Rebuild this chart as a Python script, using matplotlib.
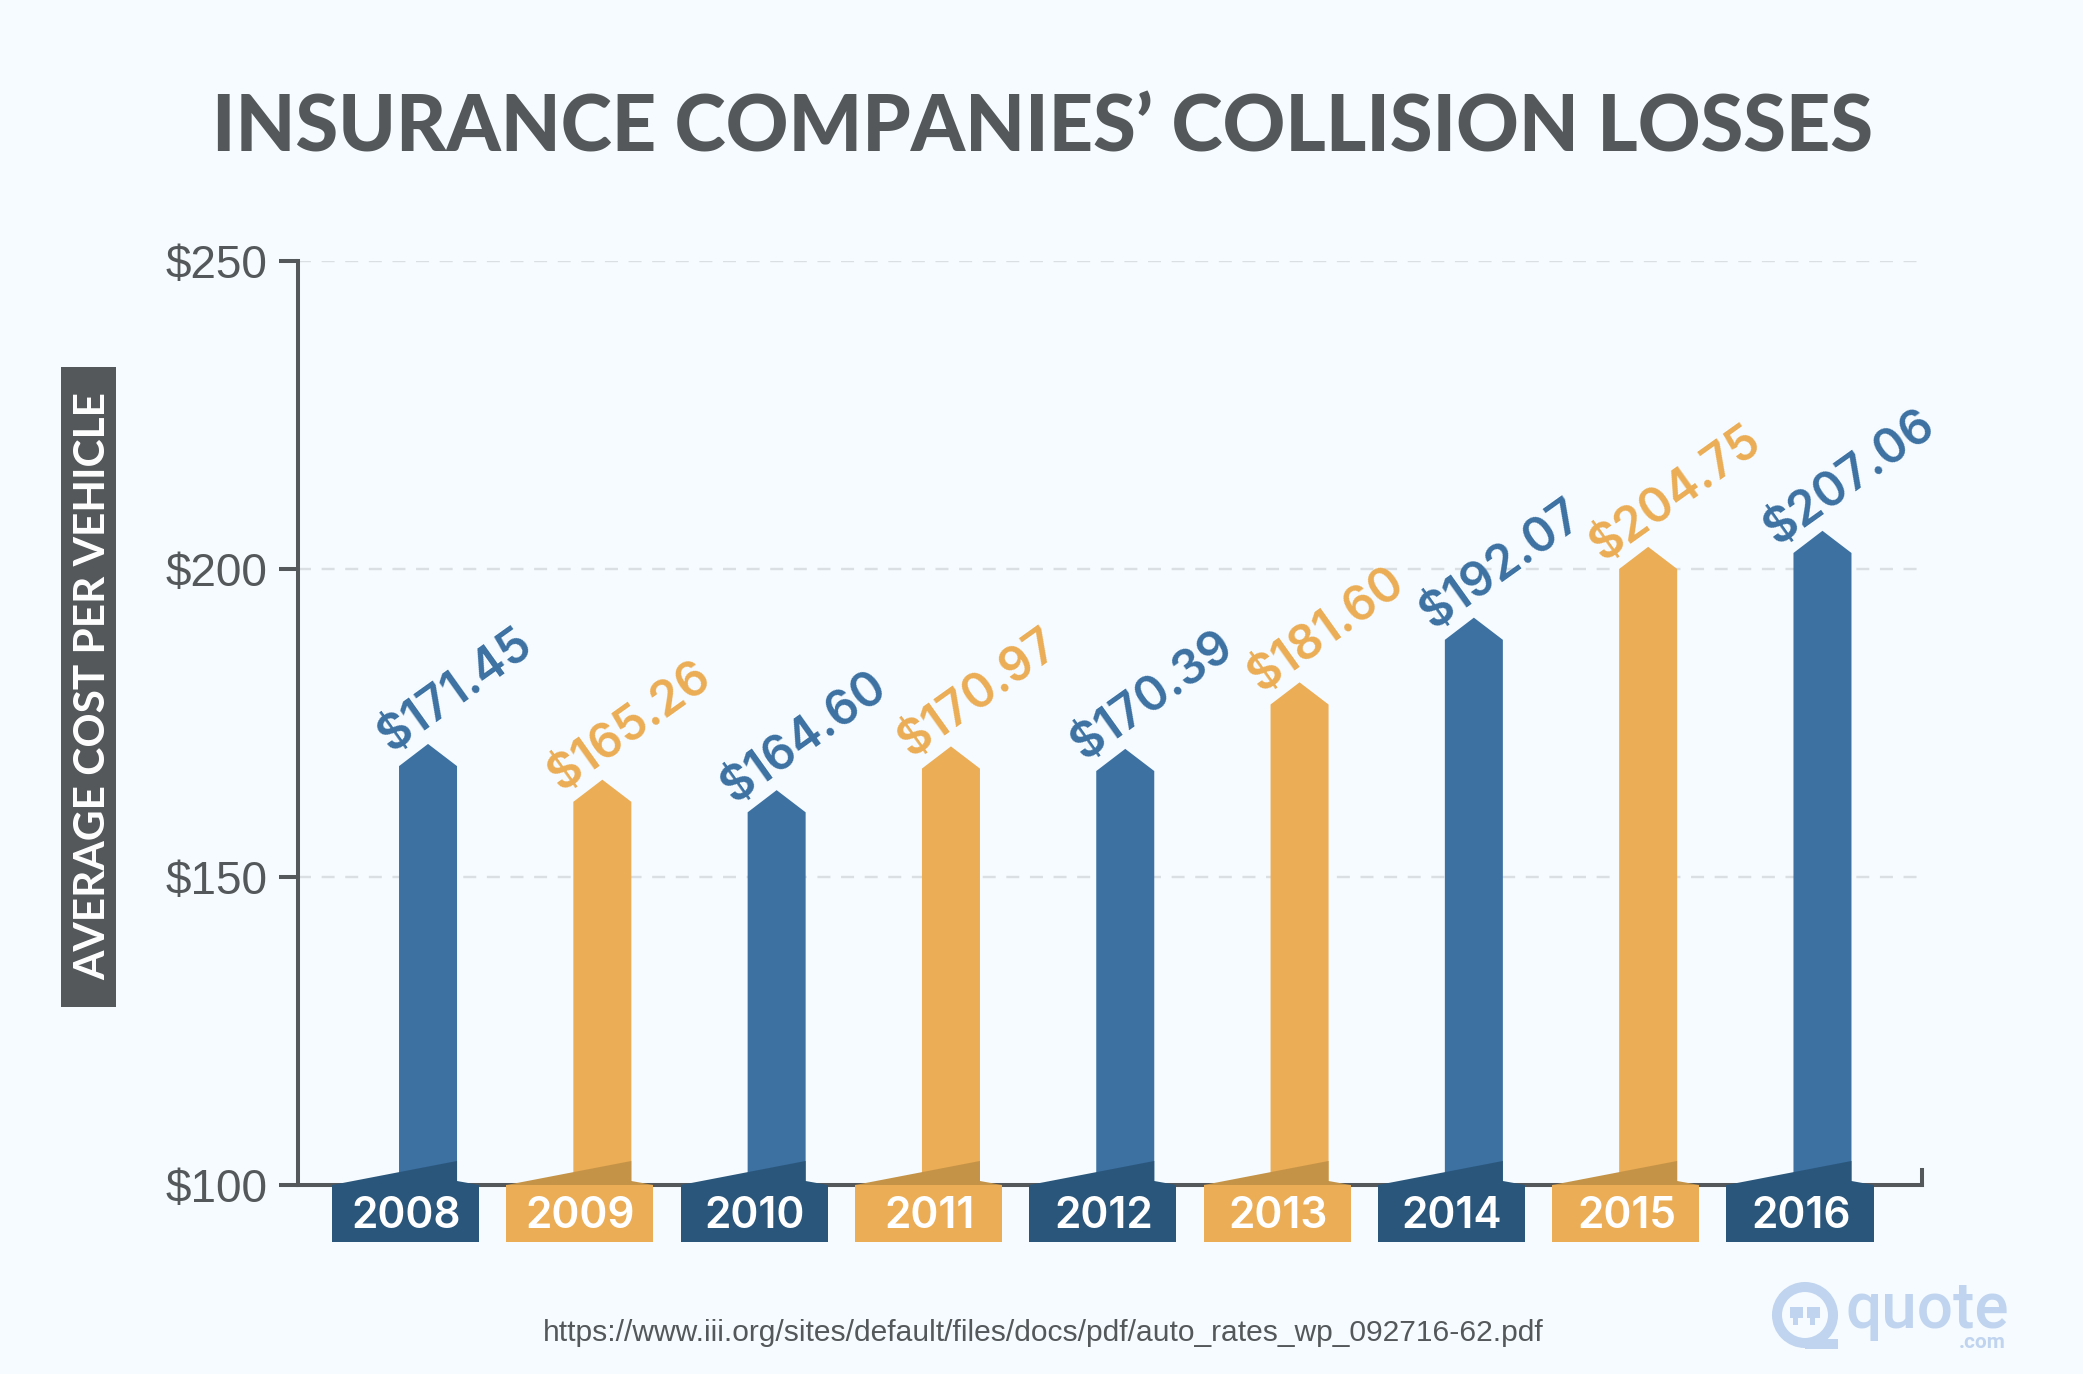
import matplotlib
matplotlib.use('Agg')
import matplotlib.pyplot as plt
from matplotlib.patches import Circle, Polygon, Rectangle

years = ['2008', '2009', '2010', '2011', '2012', '2013', '2014', '2015', '2016']
costs = [171.45, 165.26, 164.60, 170.97, 170.39, 181.60, 192.07, 204.75, 207.06]
# the bars in the picture do not sit exactly on the printed values
bar_tops = [171.6, 165.8, 164.1, 171.2, 170.8, 181.6, 192.1, 203.6, 206.2]
y_ticks = [100, 150, 200, 250]

BG = '#f5fbff'
GRAY = '#54585a'
BLUE = '#3c71a2'
DARK_BLUE = '#2a567b'
ORANGE = '#ebad55'
DARK_ORANGE = '#c59347'
LOGO = '#c0d4ef'

W, H = 2083, 1374
fig = plt.figure(figsize=(W / 100, H / 100), dpi=100, facecolor=BG)

# pixel axes for the decoration around the chart
deco = fig.add_axes([0, 0, 1, 1])
deco.set_xlim(0, W)
deco.set_ylim(H, 0)
deco.axis('off')

deco.text(1043, 152, 'INSURANCE COMPANIES’ COLLISION LOSSES', family='Lato', weight='black',
          fontsize=55.8, color=GRAY, ha='center', va='baseline')

deco.add_patch(Rectangle((61, 367), 55, 640, color=GRAY, lw=0))
deco.text(93, 686, 'AVERAGE COST PER VEHICLE', family='Lato', weight='bold', fontsize=30.5,
          color='white', rotation=90, ha='center', va='center')

deco.text(1043, 1333, 'https://www.iii.org/sites/default/files/docs/pdf/auto_rates_wp_092716-62.pdf',
          family='Liberation Sans', fontsize=21.6, color=GRAY, ha='center', va='center')

# logo
deco.add_patch(Circle((1805, 1315), 28, fill=False, ec=LOGO, lw=7.2))
deco.add_patch(Rectangle((1805, 1339), 33, 10, color=LOGO, lw=0))
for dx in [0, 17]:
    deco.add_patch(Polygon([(1790 + dx, 1307), (1803 + dx, 1307), (1803 + dx, 1318), (1798 + dx, 1318),
                            (1798 + dx, 1325), (1793 + dx, 1325), (1793 + dx, 1318), (1790 + dx, 1318)],
                           color=LOGO, lw=0))
deco.text(1846, 1328, 'quote', family='Roboto', weight='medium', fontsize=46, color=LOGO,
          ha='left', va='baseline')
deco.text(2006, 1348, '.com', family='Roboto', weight='bold', fontsize=15, color=LOGO,
          ha='right', va='baseline')

# chart axes, x runs in bar index
ax = fig.add_axes([298 / W, 1 - 1185 / H, (1922 - 298) / W, (1185 - 261) / H])
ax.patch.set_alpha(0)
ax.set_xlim(-0.746, 8.571)
ax.set_ylim(100, 250)

half = 29 / 174.3
tip = 3.6

for i, year in enumerate(years):
    color = BLUE if i % 2 == 0 else ORANGE
    dark = DARK_BLUE if i % 2 == 0 else ORANGE
    shadow = DARK_BLUE if i % 2 == 0 else DARK_ORANGE

    top = bar_tops[i]
    ax.add_patch(Polygon([(i - half, 100), (i - half, top - tip), (i, top),
                          (i + half, top - tip), (i + half, 100)], color=color, lw=0, zorder=3))
    ax.add_patch(Polygon([(i - 0.551, 100), (i - 0.476, 100.4), (i + half, 103.9), (i + half, 100.65),
                          (i + 0.293, 100)], color=shadow, lw=0, zorder=4, clip_on=False))
    ax.add_patch(Rectangle((i - 0.551, 100), 0.844, -9.25, color=dark, lw=0, zorder=5, clip_on=False))
    ax.text(i - 0.125, 94.9, year, family='Inter', weight='semibold', fontsize=30.5, color='white',
            ha='center', va='center', zorder=6)
    ax.annotate('$%.2f' % costs[i], xy=(i, top), xytext=(20, 38), textcoords='offset points',
                family='Inter', weight='semibold', fontsize=34.5, color=color, rotation=35.5,
                rotation_mode='anchor', ha='center', va='center', zorder=6)

ax.set_yticks(y_ticks)
ax.set_yticklabels(['$%d' % t for t in y_ticks], family='Liberation Sans', fontsize=33, color=GRAY)
ax.tick_params(axis='y', length=13.7, width=2.9, color=GRAY, pad=8)
ax.set_xticks([])
ax.yaxis.grid(True, color='#d9dfe3', lw=1.7, linestyle=(0, (5.5, 4.5)))
ax.set_axisbelow(True)

for side in ['top', 'right']:
    ax.spines[side].set_visible(False)
for side in ['left', 'bottom']:
    ax.spines[side].set_color(GRAY)
    ax.spines[side].set_linewidth(2.9)

# small upturned tick at the end of the x axis
ax.plot([8.571, 8.571], [100, 102.5], color=GRAY, lw=2.9, clip_on=False, zorder=2)

fig.savefig('out.png', dpi=100, facecolor=BG)
